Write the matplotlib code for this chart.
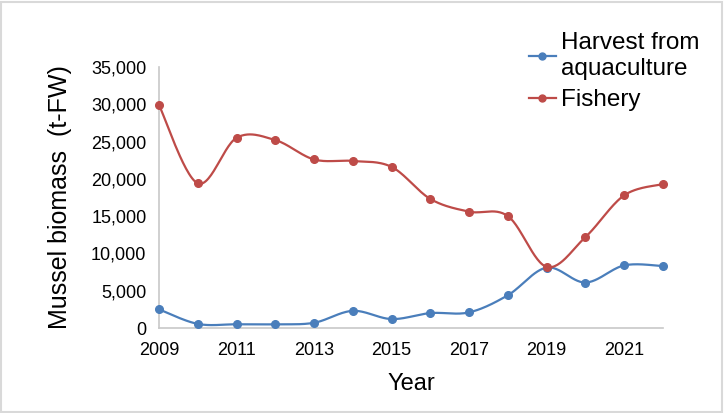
import numpy as np
import matplotlib.pyplot as plt
from matplotlib.patches import Rectangle

plt.rcParams['font.family'] = ['Liberation Sans', 'DejaVu Sans']

years = list(range(2009, 2023))
harvest = [2500, 550, 500, 500, 700, 2300, 1200, 2000, 2100, 4400, 8100, 6100, 8400, 8300]
fishery = [29900, 19400, 25500, 25200, 22600, 22400, 21600, 17300, 15600, 15000, 8200, 12200, 17800, 19300]

BLUE = '#4a7ebb'
RED = '#be4b48'


def smooth(x, y, n=30):
    # excel-like smoothed line: cubic bezier with catmull-rom control points
    x = np.asarray(x, float)
    y = np.asarray(y, float)
    px = np.concatenate([[x[0]], x, [x[-1]]])
    py = np.concatenate([[y[0]], y, [y[-1]]])
    xs, ys = [], []
    t = np.linspace(0, 1, n)
    for i in range(1, len(px) - 2):
        p0 = np.array([px[i], py[i]])
        p3 = np.array([px[i + 1], py[i + 1]])
        c1 = p0 + (np.array([px[i + 1], py[i + 1]]) - np.array([px[i - 1], py[i - 1]])) / 6
        c2 = p3 - (np.array([px[i + 2], py[i + 2]]) - np.array([px[i], py[i]])) / 6
        b = ((1 - t) ** 3)[:, None] * p0 + (3 * (1 - t) ** 2 * t)[:, None] * c1 \
            + (3 * (1 - t) * t ** 2)[:, None] * c2 + (t ** 3)[:, None] * p3
        xs.extend(b[:, 0])
        ys.extend(b[:, 1])
    return xs, ys


fig = plt.figure(figsize=(7.24, 4.13), dpi=100)
ax = fig.add_axes([0.2196, 0.2058, 0.6962, 0.632])

for vals, col, lab in [(harvest, BLUE, 'Harvest from\naquaculture'), (fishery, RED, 'Fishery')]:
    sx, sy = smooth(years, vals)
    ax.plot(sx, sy, color=col, lw=1.6, clip_on=False)
    ax.plot(years, vals, 'o', color=col, ms=5.5, clip_on=False, zorder=3)
    ax.plot([], [], '-o', color=col, lw=1.6, ms=5, label=lab)

ax.set_xlim(2009, 2022)
ax.set_ylim(0, 35000)
ax.set_xticks(range(2009, 2023, 2))
ax.set_yticks(range(0, 35001, 5000))
ax.set_yticklabels(['{:,}'.format(v) for v in range(0, 35001, 5000)])
ax.tick_params(length=0, labelsize=13, pad=9)
ax.tick_params(axis='x', pad=10)
for s in ['top', 'right']:
    ax.spines[s].set_visible(False)
for s in ['left', 'bottom']:
    ax.spines[s].set_color('#c8c8c8')
    ax.spines[s].set_linewidth(1.2)

ax.set_xlabel('Year', fontsize=17, labelpad=10)
ax.set_ylabel('Mussel biomass  (t-FW)', fontsize=18, labelpad=14)

ax.legend(loc='upper left', bbox_to_anchor=(0.715, 1.17), frameon=False, fontsize=17.5,
          handlelength=1.1, handletextpad=0.2, labelspacing=0.4, borderaxespad=0)

fig.patches.append(Rectangle((0.002, 0.003), 0.995, 0.993, transform=fig.transFigure,
                             fill=False, edgecolor='#d9d9d9', lw=1.5))

fig.savefig('out.png', dpi=100)
